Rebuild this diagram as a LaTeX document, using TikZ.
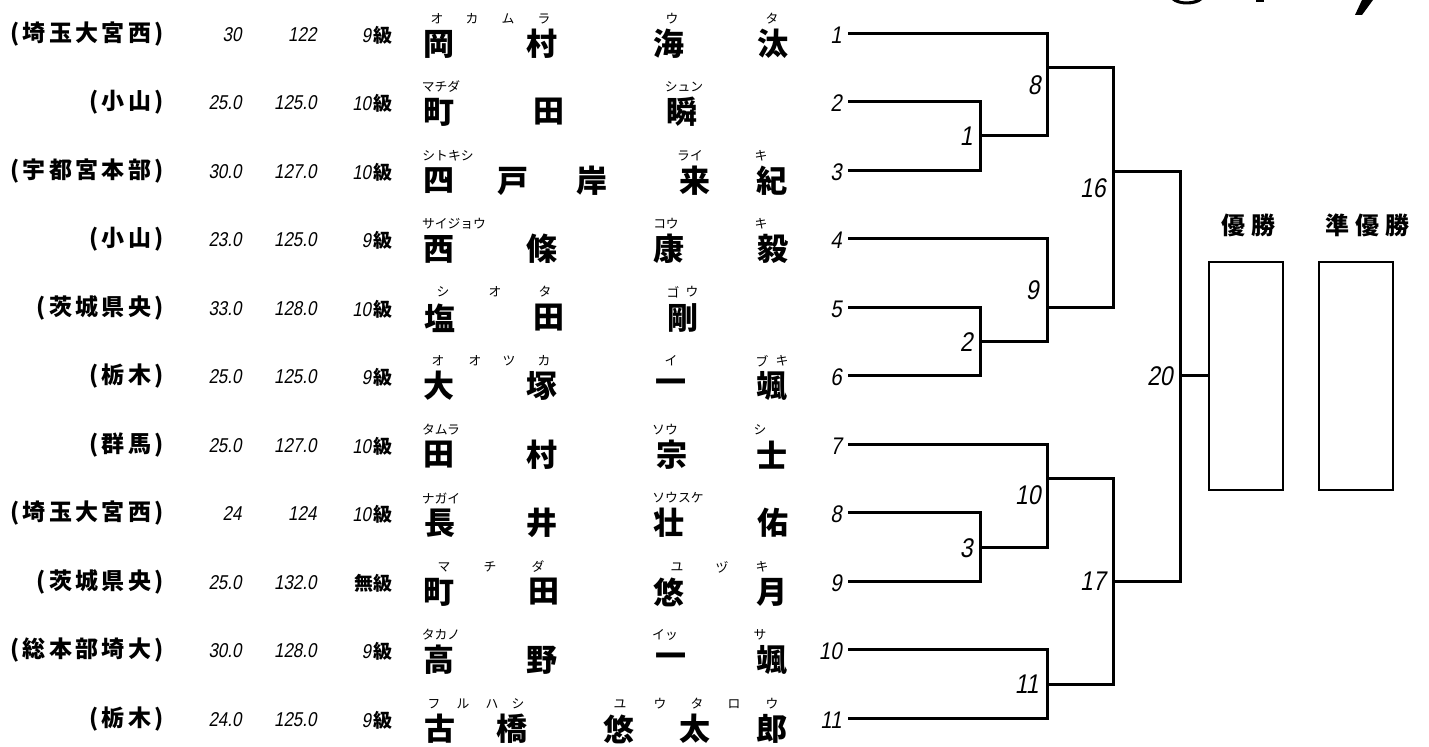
\documentclass[tikz,border=0pt]{standalone}
\usepackage{fontspec}
\newfontfamily\jp{Noto Sans CJK JP}
\newfontfamily\numfont{Liberation Sans}[FakeStretch=0.85,FakeSlant=0.18]
\newcommand\gradek{\jp\bfseries\fontsize{9.5}{11}\selectfont}
\begin{document}
\begin{tikzpicture}[x=0.5pt,y=-0.5pt,
  namek/.style={font={\jp\bfseries\fontsize{15.5}{18}\selectfont},inner sep=0},
  furi/.style={font={\jp\fontsize{6.4}{8}\selectfont},inner sep=0},
  school/.style={font={\jp\bfseries\fontsize{11.5}{13}\selectfont},anchor=east,inner sep=0},
  num/.style={font={\numfont\fontsize{10}{12}\selectfont},anchor=east,inner sep=0},
  seed/.style={font={\numfont\fontsize{12}{14}\selectfont},anchor=east,inner sep=0},
  mlab/.style={font={\numfont\fontsize{13.5}{15}\selectfont},anchor=east,inner sep=0},
  br/.style={line width=1.5pt},
  resbox/.style={draw,line width=0.75pt,minimum width=37pt,minimum height=114pt,inner sep=0},
  head/.style={font={\jp\bfseries\fontsize{12}{14}\selectfont\addfontfeature{LetterSpace=25}},inner sep=0},
  frag/.style={fill=black}]
\useasboundingbox (0,0) rectangle (1429,747);

% ---- school / weight / height / grade
\foreach \r/\y/\sch/\w/\h/\gn/\gk in {
  1/34/埼玉大宮西/30/122/9/級,
  2/102/小山/25.0/125.0/10/級,
  3/171/宇都宮本部/30.0/127.0/10/級,
  4/239/小山/23.0/125.0/9/級,
  5/308/茨城県央/33.0/128.0/10/級,
  6/376/栃木/25.0/125.0/9/級,
  7/445/群馬/25.0/127.0/10/級,
  8/513/埼玉大宮西/24/124/10/級,
  9/582/茨城県央/25.0/132.0//無級,
  10/650/総本部埼大/30.0/128.0/9/級,
  11/719/栃木/24.0/125.0/9/級}{
  \node[school] (sc\r) at (164,\y) {(\kern1.5pt{\addfontfeature{LetterSpace=15}\sch}\kern1.5pt)};
  \node[num] (wt\r) at (242,\y+1) {\w};
  \node[num] (ht\r) at (317,\y+1) {\h};
  \node[num] (gr\r) at (393,\y+1) {\gn\kern1.2pt{\gradek\gk}};
  \node[seed] (n\r) at (842,\y+1) {\r};
  \coordinate (p\r) at (848,\y);
}

% ---- names (kanji)
\foreach \x/\c [count=\i] in {439/岡,542/村,669/海,773/汰} \node[namek] (k1-\i) at (\x,44) {\c};
\foreach \x/\c [count=\i] in {439/町,549/田,682/瞬} \node[namek] (k2-\i) at (\x,112) {\c};
\foreach \x/\c [count=\i] in {439/四,513/戸,592/岸,695/来,772/紀} \node[namek] (k3-\i) at (\x,181) {\c};
\foreach \x/\c [count=\i] in {439/西,542/條,669/康,773/毅} \node[namek] (k4-\i) at (\x,249) {\c};
\foreach \x/\c [count=\i] in {440/塩,549/田,683/剛} \node[namek] (k5-\i) at (\x,318) {\c};
\foreach \x/\c [count=\i] in {439/大,542/塚,671/一,772/颯} \node[namek] (k6-\i) at (\x,386) {\c};
\foreach \x/\c [count=\i] in {439/田,542/村,672/宗,772/士} \node[namek] (k7-\i) at (\x,455) {\c};
\foreach \x/\c [count=\i] in {440/長,542/井,669/壮,773/佑} \node[namek] (k8-\i) at (\x,523) {\c};
\foreach \x/\c [count=\i] in {439/町,544/田,669/悠,772/月} \node[namek] (k9-\i) at (\x,592) {\c};
\foreach \x/\c [count=\i] in {439/高,542/野,671/一,772/颯} \node[namek] (k10-\i) at (\x,660) {\c};
\foreach \x/\c [count=\i] in {440/古,512/橋,619/悠,695/太,772/郎} \node[namek] (k11-\i) at (\x,729) {\c};

% ---- furigana
\foreach \x/\c [count=\i] in {437/オ,472/カ,508/ム,544/ラ,672/ウ,772/タ} \node[furi] (f1-\i) at (\x,19) {\c};
\foreach \x/\c [count=\i] in {441/マチダ,684/シュン} \node[furi] (f2-\i) at (\x,87) {\c};
\foreach \x/\c [count=\i] in {448/シトキシ,690/ライ,761/キ} \node[furi] (f3-\i) at (\x,156) {\c};
\foreach \x/\c [count=\i] in {454/サイジョウ,666/コウ,761/キ} \node[furi] (f4-\i) at (\x,224) {\c};
\foreach \x/\c [count=\i] in {443/シ,495/オ,545/タ,673/ゴ,692/ウ} \node[furi] (f5-\i) at (\x,292) {\c};
\foreach \x/\c [count=\i] in {438/オ,475/オ,509/ツ,544/カ,671/イ,762/ブ,782/キ} \node[furi] (f6-\i) at (\x,361) {\c};
\foreach \x/\c [count=\i] in {441/タムラ,665/ソウ,760/シ} \node[furi] (f7-\i) at (\x,430) {\c};
\foreach \x/\c [count=\i] in {441/ナガイ,678/ソウスケ} \node[furi] (f8-\i) at (\x,498) {\c};
\foreach \x/\c [count=\i] in {444/マ,490/チ,538/ダ,677/ユ,722/ヅ,762/キ} \node[furi] (f9-\i) at (\x,567) {\c};
\foreach \x/\c [count=\i] in {441/タカノ,665/イッ,760/サ} \node[furi] (f10-\i) at (\x,635) {\c};
\foreach \x/\c [count=\i] in {434/フ,463/ル,492/ハ,518/シ,620/ユ,660/ウ,697/タ,734/ロ,772/ウ} \node[furi] (f11-\i) at (\x,704) {\c};

% ---- bracket junctions
\coordinate (m1) at (980,136);
\coordinate (m2) at (980,342);
\coordinate (m3) at (980,548);
\coordinate (m8) at (1047,68);
\coordinate (m9) at (1047,308);
\coordinate (m10) at (1047,479);
\coordinate (m11) at (1047,685);
\coordinate (m16) at (1113,172);
\coordinate (m17) at (1113,582);
\coordinate (m20) at (1180,376);

% ---- result boxes and headings
\node[resbox] (win) at (1246,376) {};
\node[resbox] (run) at (1356,376) {};
\node[head] (hwin) at (1248,225) {優勝};
\node[head] (hrun) at (1367,225) {準優勝};

% ---- bracket lines
\draw[br] (p2) -| (m1);  \draw[br] (p3) -| (m1);
\draw[br] (p1) -| (m8);  \draw[br] (m1) -| (m8);
\draw[br] (p5) -| (m2);  \draw[br] (p6) -| (m2);
\draw[br] (p4) -| (m9);  \draw[br] (m2) -| (m9);
\draw[br] (m8) -| (m16); \draw[br] (m9) -| (m16);
\draw[br] (p8) -| (m3);  \draw[br] (p9) -| (m3);
\draw[br] (p7) -| (m10); \draw[br] (m3) -| (m10);
\draw[br] (p10) -| (m11); \draw[br] (p11) -| (m11);
\draw[br] (m10) -| (m17); \draw[br] (m11) -| (m17);
\draw[br] (m16) -| (m20); \draw[br] (m17) -| (m20);
\draw[br] (m20) -- (win.west);

% ---- match numbers
\node[mlab] (l1) at (973,136) {1};
\node[mlab] (l2) at (973,342) {2};
\node[mlab] (l3) at (973,548) {3};
\node[mlab] (l8) at (1041,85) {8};
\node[mlab] (l9) at (1039,290) {9};
\node[mlab] (l10) at (1041,495) {10};
\node[mlab] (l11) at (1039,684) {11};
\node[mlab] (l16) at (1106,188) {16};
\node[mlab] (l17) at (1106,581) {17};
\node[mlab] (l20) at (1173,376) {20};

% ---- cut-off title fragments at the top edge
\fill[frag] (1172,0) .. controls (1178,6) and (1196,6) .. (1202,0) -- (1196,0) .. controls (1190,2) and (1182,2) .. (1178,0) -- cycle;
\fill[frag] (1256,0) rectangle (1264,2.5);
\fill[frag] (1362,0) -- (1373,0) -- (1362,15) -- (1355,15) -- cycle;
\end{tikzpicture}
\end{document}
